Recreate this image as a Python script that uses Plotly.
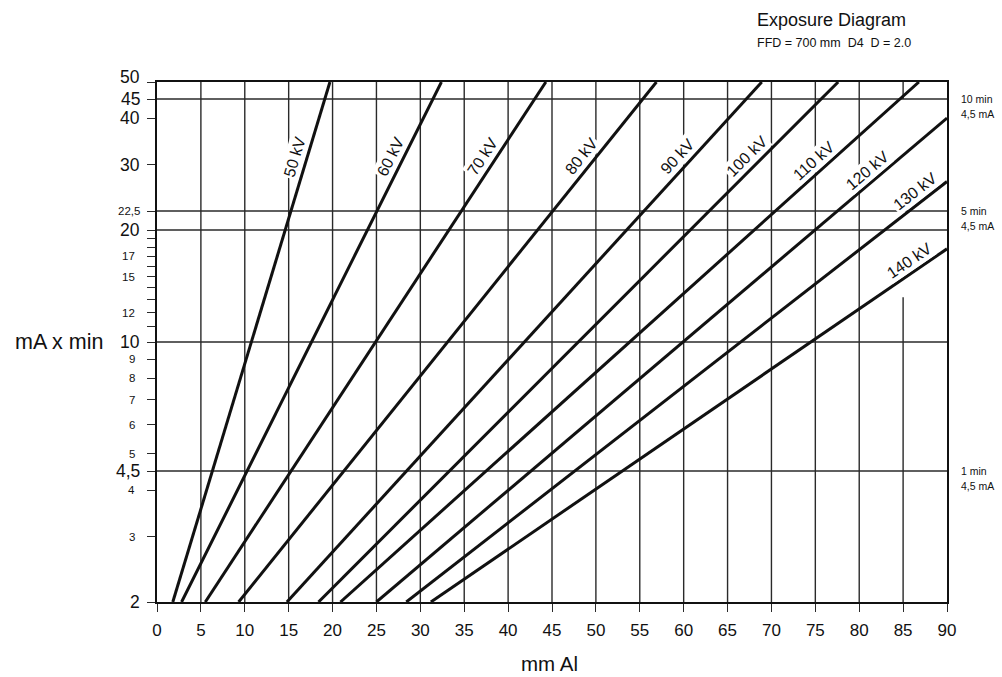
import math
import plotly.graph_objects as go

# Exposure curves: each tube voltage is a straight line on the log mA·min axis,
# running from where it meets 2 mA·min to where it leaves the chart.
kv_labels = ["50 kV", "60 kV", "70 kV", "80 kV", "90 kV",
             "100 kV", "110 kV", "120 kV", "130 kV", "140 kV"]
x_at_2 = [1.8, 2.8, 5.5, 9.3, 14.8, 18.4, 20.9, 25.0, 28.4, 31.2]
x_end = [19.7, 32.4, 44.3, 56.9, 68.9, 77.6, 86.8, 90.0, 90.0, 90.0]
y_end = [50, 50, 50, 50, 50, 50, 50, 40.0, 27.0, 17.8]
# height (mA x min) at which each curve's label sits
label_y = [31.5, 31.5, 31.5, 31.5, 31.5, 31.5, 30.8, 29.0, 25.4, 16.6]

# Axis ticks
x_ticks = list(range(0, 95, 5))
y_tick_vals = [2, 3, 4, 4.5, 5, 6, 7, 8, 9, 10, 11, 12, 13, 14, 15, 16, 17, 18,
               19, 20, 22.5, 30, 40, 45, 50]
y_tick_text = ["2", "3", "4", "4,5", "5", "6", "7", "8", "9", "10", "", "12", "",
               "", "15", "", "17", "", "", "20", "22,5", "30", "40", "45", "50"]
y_major = ["2", "4,5", "10", "20", "30", "40", "45", "50"]

# Reference levels drawn across the chart and the notes at their right end
ref_levels = [4.5, 10, 20, 22.5, 45]
side_notes = [("10 min", "4,5 mA", 45), ("5 min", "4,5 mA", 22.5), ("1 min", "4,5 mA", 4.5)]

X_MIN, X_MAX = 0, 90
Y_MIN, Y_MAX = 2, 50

W, H = 1002, 677
ML, MR, MT, MB = 157, 55, 82, 75
PW, PH = W - ML - MR, H - MT - MB
FONT = "Arial, Liberation Sans, Helvetica, sans-serif"
INK = "#111111"
GRID = "#2a2a2a"

fig = go.Figure()

for name, x0, x1, y1 in zip(kv_labels, x_at_2, x_end, y_end):
    fig.add_trace(go.Scatter(
        x=[x0, x1], y=[Y_MIN, y1], mode="lines", name=name,
        line=dict(color=INK, width=3), hoverinfo="name", showlegend=False))

# Vertical grid lines (the one at 85 is interrupted behind the 130/140 kV labels)
grid_gaps = {85: (13.2, 45)}
shapes = []
for gx in x_ticks[1:-1]:
    segs = [(Y_MIN, Y_MAX)]
    if gx in grid_gaps:
        g0, g1 = grid_gaps[gx]
        segs = [(Y_MIN, g0), (g1, Y_MAX)]
    for s0, s1 in segs:
        shapes.append(dict(type="line", xref="x", yref="y", x0=gx, x1=gx, y0=s0, y1=s1,
                           line=dict(color=GRID, width=1.4), layer="below"))
for ly in ref_levels:
    shapes.append(dict(type="line", xref="x", yref="y", x0=X_MIN, x1=X_MAX, y0=ly, y1=ly,
                       line=dict(color=GRID, width=1.4), layer="below"))

annotations = []

# Curve labels, rotated along each line and set just above it
lg = math.log10
span_y = lg(Y_MAX) - lg(Y_MIN)
for name, x0, x1, y1, ly in zip(kv_labels, x_at_2, x_end, y_end, label_y):
    dxp = (x1 - x0) * PW / (X_MAX - X_MIN)
    dyp = (lg(y1) - lg(Y_MIN)) * PH / span_y
    theta = math.atan2(dyp, dxp)
    frac = (lg(ly) - lg(Y_MIN)) / (lg(y1) - lg(Y_MIN))
    lx = x0 + (x1 - x0) * frac
    annotations.append(dict(
        x=lx, y=lg(ly), xref="x", yref="y", text=name, showarrow=False,
        textangle=-math.degrees(theta), xshift=-12 / math.sin(theta),
        font=dict(family=FONT, size=16, color=INK), bgcolor="white", borderpad=1))

# Y tick labels: main values large, intermediate values small
for val, txt in zip(y_tick_vals, y_tick_text):
    if not txt:
        continue
    big = txt in y_major
    annotations.append(dict(
        x=0, y=lg(val), xref="paper", yref="y", text=txt, showarrow=False,
        xanchor="right", yanchor="middle",
        xshift=-15 if big or txt == "22,5" else -20,
        yshift=5 if val == Y_MAX else 0,
        font=dict(family=FONT, size=17.5 if big else 11.5, color=INK)))

for top, bottom, lvl in side_notes:
    for txt, dy in ((top, 0), (bottom, -15)):
        annotations.append(dict(
            x=X_MAX, y=lg(lvl), xref="x", yref="y", text=txt, showarrow=False,
            xanchor="left", yanchor="middle", xshift=12, yshift=dy,
            font=dict(family=FONT, size=10.5, color=INK)))

annotations += [
    dict(x=(755 - ML) / PW, y=(H - MB - 20) / PH, xref="paper", yref="paper",
         text="Exposure Diagram", showarrow=False, xanchor="left", yanchor="middle",
         font=dict(family=FONT, size=18, color=INK)),
    dict(x=(755 - ML) / PW, y=(H - MB - 43) / PH, xref="paper", yref="paper",
         text="FFD = 700 mm  D4  D = 2.0", showarrow=False, xanchor="left", yanchor="middle",
         font=dict(family=FONT, size=12.5, color=INK)),
    dict(x=(59 - ML) / PW, y=0.5, xref="paper", yref="paper", text="mA x min",
         showarrow=False, xanchor="center", yanchor="middle",
         font=dict(family=FONT, size=21.5, color=INK)),
    dict(x=(549 - ML) / PW, y=(H - MB - 663) / PH, xref="paper", yref="paper", text="mm Al",
         showarrow=False, xanchor="center", yanchor="middle",
         font=dict(family=FONT, size=20.5, color=INK)),
]

fig.update_layout(
    width=W, height=H, margin=dict(l=ML, r=MR, t=MT, b=MB),
    paper_bgcolor="white", plot_bgcolor="white",
    shapes=shapes, annotations=annotations,
    xaxis=dict(range=[X_MIN, X_MAX], tickvals=x_ticks, ticks="outside", ticklen=8,
               tickwidth=1.4, tickcolor=GRID, showgrid=False, zeroline=False,
               showline=True, linecolor=INK, linewidth=1.6, mirror=True,
               ticklabelstandoff=4,
               tickfont=dict(family=FONT, size=17, color=INK)),
    yaxis=dict(type="log", range=[lg(Y_MIN), lg(Y_MAX)], tickvals=y_tick_vals,
               showticklabels=False, ticks="outside", ticklen=8, tickwidth=1.4,
               tickcolor=GRID, showgrid=False, zeroline=False, showline=True,
               linecolor=INK, linewidth=1.6, mirror=True),
)

fig.write_html("out.html")
